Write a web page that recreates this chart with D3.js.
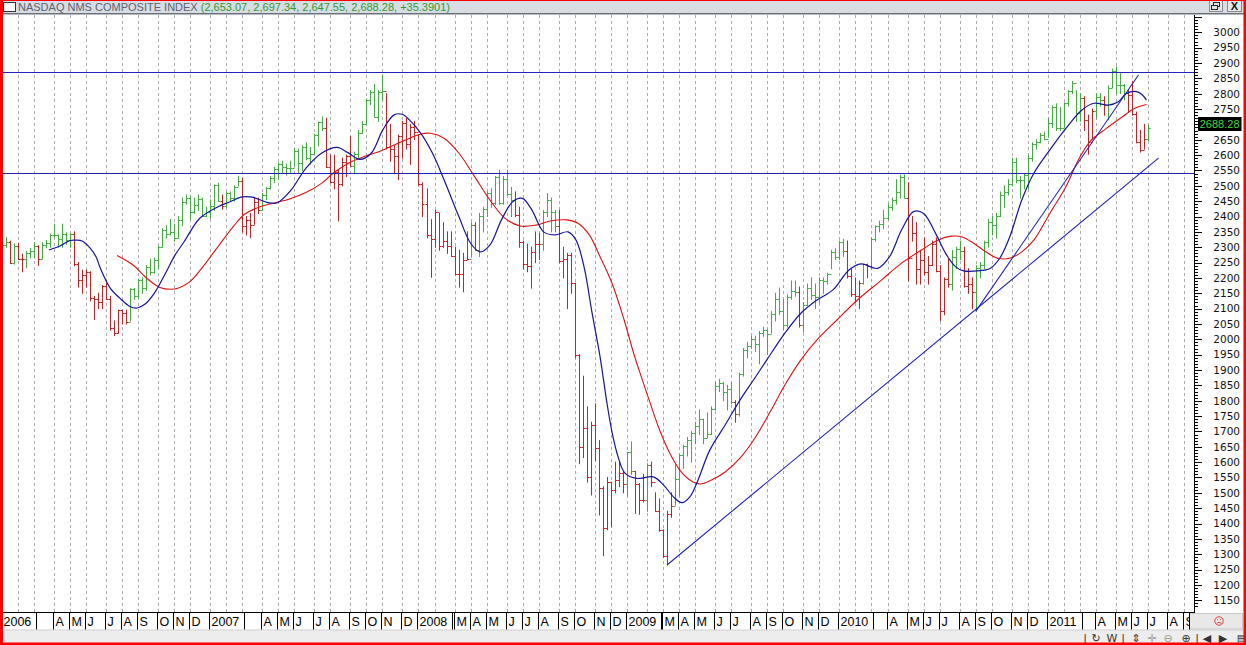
<!DOCTYPE html>
<html><head><meta charset="utf-8">
<script src="https://cdn.jsdelivr.net/npm/d3@7"></script>
<style>
html,body{margin:0;padding:0;background:#fff;overflow:hidden;}
svg{display:block;}
</style></head><body>
<svg id="c" width="1246" height="645"></svg>
<script>
// ---------------- DATA ----------------
const titleName = "NASDAQ NMS COMPOSITE INDEX";
const titleValues = "(2,653.07, 2,697.34, 2,647.55, 2,688.28, +35.3901)";
const lastValueLabel = "2688.28";
const firstWeekMonday = "2006-01-02";
const closeBeforeFirstWeek = 2205.3;
const holidayWeekEnds = ["2010-01-01"];

const weekHigh = [
2306,2332,2320,2311,2313,2277,2286,2296,2315,2305,2315,2322,2342,2375,2340,2375,2347,2345,2350,2250,2225,2225,2220,2140,2150,2175,2190,2140,2060,2095,2095,2095,2165,2165,2195,2200,2240,2260,2265,2302,2360,2370,2390,2375,2400,2460,2470,2465,2460,2470,2460,2430,
2454,2503,2508,2470,2480,2480,2500,2531,2525,2400,2410,2460,2460,2475,2495,2530,2560,2575,2580,2570,2580,2620,2620,2630,2640,2625,2668,2708,2724,2720,2600,2600,2550,2590,2600,2660,2610,2680,2710,2782,2810,2830,2810,2861,2800,2700,2630,2665,2710,2720,2700,2710,
2665,2510,2490,2390,2420,2410,2380,2350,2350,2300,2290,2280,2350,2380,2380,2410,2430,2480,2490,2530,2550,2530,2550,2495,2480,2430,2320,2310,2300,2350,2345,2420,2475,2460,2420,2420,2300,2280,2280,2183,1950,1880,1780,1730,1790,1670,1520,1550,1535,1600,1600,1570,
1632,1666,1570,1530,1560,1595,1600,1500,1480,1380,1440,1500,1590,1625,1655,1680,1700,1730,1770,1740,1760,1780,1860,1870,1860,1850,1860,1800,1890,1970,1990,2010,2010,2025,2040,2030,2090,2150,2167,2130,2145,2190,2190,2170,2120,2180,2200,2180,2200,2200,2215,2290,
2295,2320,2326,2320,2230,2200,2190,2245,2245,2330,2370,2385,2420,2440,2460,2520,2535,2535,2510,2400,2380,2290,2330,2270,2320,2330,2240,2200,2260,2290,2300,2320,2300,2230,2200,2240,2250,2320,2390,2400,2410,2480,2500,2520,2590,2590,2530,2540,2600,2640,2650,2670,
2675,2720,2760,2767,2755,2770,2810,2840,2810,2800,2790,2730,2750,2800,2800,2790,2825,2880,2887,2865,2830,2810,2840,2740,2680,2700,2697.3];

const weekLow = [
2189,2300,2247,2245,2260,2220,2233,2265,2265,2241,2262,2298,2300,2330,2300,2300,2310,2300,2240,2170,2150,2170,2125,2065,2100,2100,2130,2030,2012,2020,2050,2050,2060,2130,2135,2150,2160,2210,2215,2230,2300,2330,2340,2320,2330,2370,2440,2390,2410,2420,2400,2400,
2394,2420,2450,2424,2430,2450,2450,2500,2350,2340,2331,2375,2410,2420,2455,2490,2510,2520,2540,2535,2540,2565,2540,2550,2585,2570,2605,2630,2680,2560,2510,2490,2386,2500,2530,2565,2540,2590,2670,2700,2765,2725,2710,2780,2620,2580,2540,2520,2590,2620,2570,2650,
2500,2400,2330,2202,2300,2290,2300,2280,2270,2210,2170,2155,2260,2270,2290,2270,2350,2400,2430,2440,2440,2440,2470,2400,2400,2300,2230,2220,2167,2250,2260,2290,2400,2350,2350,2250,2200,2100,2150,1940,1595,1615,1535,1493,1605,1428,1295,1380,1390,1500,1520,1500,
1490,1560,1433,1430,1470,1440,1520,1440,1375,1290,1265,1420,1460,1490,1580,1620,1600,1660,1690,1660,1680,1690,1770,1830,1800,1770,1790,1730,1750,1880,1940,1970,1960,1920,2010,1950,2020,2060,2080,2030,2040,2130,2140,2040,2024,2110,2130,2100,2120,2150,2180,2230,
2260,2260,2270,2200,2140,2120,2100,2180,2200,2230,2320,2350,2360,2390,2420,2440,2460,2460,2190,2320,2180,2180,2210,2180,2240,2220,2061,2080,2170,2160,2230,2260,2170,2150,2100,2091,2200,2230,2300,2340,2330,2400,2430,2470,2500,2510,2460,2490,2490,2580,2620,2640,
2650,2660,2690,2680,2680,2690,2760,2800,2710,2710,2680,2603,2650,2720,2760,2730,2715,2820,2800,2800,2780,2740,2730,2640,2610,2620,2647.6];

const weekClose = [
2305.6,2316.7,2247.7,2304.2,2262.6,2261.9,2282.4,2287.0,2302.6,2262.0,2306.5,2312.8,2339.8,2339.0,2326.1,2342.9,2322.6,2342.6,2243.8,2193.9,2210.4,2219.9,2135.1,2130.0,2121.5,2172.1,2130.1,2037.4,2020.4,2094.1,2085.1,2057.7,2164.0,2140.3,2193.2,2165.8,2235.6,2218.9,2258.4,2300.0,2357.3,2342.3,2350.6,2330.8,2389.7,2445.9,2460.3,2413.2,2437.4,2457.2,2401.2,2415.3,
2434.3,2502.8,2451.3,2435.5,2475.9,2459.8,2496.3,2515.1,2368.0,2387.6,2372.7,2448.9,2421.6,2471.3,2491.9,2526.4,2554.5,2572.2,2562.2,2558.5,2557.2,2613.9,2573.5,2626.7,2589.0,2603.2,2666.5,2707.0,2687.6,2562.2,2511.3,2544.9,2505.0,2576.7,2596.4,2565.7,2602.2,2671.2,2701.5,2780.3,2805.7,2725.2,2804.2,2810.4,2627.9,2618.5,2596.6,2661.0,2706.2,2635.7,2692.0,2674.5,
2504.7,2439.9,2340.0,2326.2,2413.4,2304.9,2321.8,2303.4,2271.5,2212.5,2212.0,2258.1,2261.2,2371.0,2290.2,2403.0,2422.9,2476.7,2445.5,2528.9,2444.7,2522.7,2474.6,2454.5,2406.1,2315.6,2245.4,2239.1,2282.8,2310.5,2311.0,2414.1,2452.5,2414.7,2367.5,2255.9,2261.3,2273.9,2183.3,1947.4,1649.5,1711.3,1552.0,1721.0,1647.4,1516.9,1384.4,1535.6,1509.3,1540.7,1564.3,1530.2,
1632.2,1571.6,1529.3,1477.3,1476.4,1591.7,1534.4,1441.2,1377.8,1293.9,1431.5,1457.3,1545.2,1621.9,1652.5,1673.1,1694.3,1717.3,1739.0,1680.1,1692.0,1774.3,1849.4,1858.8,1827.5,1838.2,1796.5,1756.0,1886.6,1965.9,1979.0,2000.3,1985.5,2020.9,2028.8,2018.8,2080.9,2132.9,2090.9,2048.1,2139.3,2156.8,2154.5,2045.1,2112.4,2167.9,2146.0,2138.4,2194.4,2190.3,2211.7,2285.7,
2269.2,2317.2,2287.9,2205.3,2147.4,2141.1,2183.5,2243.9,2238.3,2326.4,2367.7,2374.4,2395.4,2429.5,2454.1,2481.3,2530.2,2461.2,2265.6,2346.9,2229.0,2257.0,2219.2,2243.6,2309.8,2223.5,2091.8,2196.5,2179.1,2269.5,2293.1,2288.5,2173.5,2179.8,2153.6,2233.8,2242.5,2315.6,2381.2,2370.8,2401.9,2468.8,2479.4,2507.4,2578.9,2518.2,2518.1,2534.6,2591.5,2637.5,2642.9,2665.6,
2652.9,2703.2,2755.3,2689.5,2686.9,2769.3,2809.4,2833.9,2737.9,2784.7,2715.6,2643.7,2743.1,2789.6,2780.4,2764.7,2820.2,2873.5,2827.6,2828.5,2803.3,2796.9,2732.8,2643.7,2616.5,2652.9,2688.3];

// moving averages: [week index, value]
const blueMA = [[11.8,2291],[14.6,2304],[17.1,2322],[18.6,2323],[20.1,2320],[22.1,2297],[23.6,2268],[24.6,2233],[27.1,2167],[29.5,2134],[32.0,2107],[33.8,2102],[35.8,2115],[38.3,2154],[40.8,2213],[43.3,2275],[45.5,2317],[49.5,2395],[54.0,2432],[57.0,2448],[59.7,2463],[62.6,2463],[66.5,2445],[68.8,2445],[72.2,2486],[75.9,2557],[79.8,2606],[83.7,2625],[86.4,2608],[89.4,2586],[92.2,2606],[95.1,2682],[97.9,2731],[99.9,2733],[101.8,2714],[104.6,2671],[107.5,2606],[110.4,2519],[114.1,2399],[117.0,2313],[119.4,2285],[121.8,2307],[124.7,2389],[127.5,2448],[129.9,2459],[132.3,2421],[135.2,2350],[138.1,2340],[141.3,2350],[143.3,2323],[145.3,2236],[147.3,2086],[149.3,1943],[150.9,1802],[152.2,1703],[153.8,1617],[155.5,1564],[158.4,1547],[162.6,1552],[165.1,1526],[167.6,1487],[169.7,1468],[171.7,1487],[173.4,1531],[176.7,1640],[180.5,1721],[184.2,1802],[187.9,1874],[190.9,1933],[195.4,2020],[199.4,2085],[203.4,2128],[207.4,2161],[211.4,2226],[214.4,2246],[218.5,2231],[221.5,2269],[224.5,2356],[227.5,2416],[230.0,2410],[233.0,2345],[235.5,2280],[238.0,2236],[240.0,2223],[243.5,2223],[246.6,2231],[249.0,2264],[251.5,2334],[254.5,2454],[257.5,2541],[261.5,2617],[265.5,2687],[269.5,2747],[272.5,2769],[276.1,2763],[278.6,2774],[280.6,2801],[283.1,2807],[284.6,2796],[285.6,2779]];

const redMA = [[28.8,2273],[32.8,2242],[36.2,2199],[39.5,2169],[42.5,2163],[44.5,2169],[47.0,2188],[50.2,2236],[54.0,2302],[57.8,2367],[60.7,2408],[64.5,2432],[68.3,2445],[72.2,2459],[75.9,2478],[79.8,2508],[82.7,2541],[86.4,2573],[90.3,2595],[94.1,2611],[97.9,2633],[101.8,2655],[104.6,2669],[107.0,2671],[110.4,2655],[114.1,2606],[118.0,2530],[121.8,2454],[125.6,2394],[129.4,2369],[133.3,2372],[137.1,2386],[141.0,2389],[143.8,2378],[146.6,2340],[149.3,2269],[152.3,2182],[155.3,2063],[157.8,1949],[159.3,1889],[161.8,1792],[164.2,1703],[166.7,1629],[169.2,1574],[171.7,1542],[174.2,1529],[176.7,1539],[180.5,1568],[184.2,1613],[187.9,1678],[191.7,1763],[195.4,1851],[199.4,1933],[203.4,1998],[208.4,2063],[213.5,2128],[219.5,2193],[224.5,2248],[229.5,2291],[233.5,2323],[237.0,2336],[239.5,2334],[242.5,2313],[245.5,2285],[248.5,2264],[251.5,2264],[254.5,2285],[257.5,2323],[261.5,2410],[265.5,2497],[268.6,2584],[271.5,2644],[275.6,2687],[279.6,2725],[282.6,2752],[285.6,2765]];

const levelLines = [2870, 2541];
const trendLines = [[[166, 1265], [288.6, 2590]], [[243, 2091], [283.6, 2861]]];
const priceTicks = d3.range(1150, 3001, 50);
const monthLetters = ["J","F","M","A","M","J","J","A","S","O","N","D"];

// ---------------- SCALES ----------------
const DAY = 864e5;
const t0 = new Date(firstWeekMonday + "T00:00:00Z").getTime();
const weekDate = w => new Date(t0 + w * 7 * DAY);
const x = d3.scaleUtc()
  .domain([new Date(Date.UTC(2006,0,1)), new Date(Date.UTC(2011,8,11))])
  .range([1, 1191.6]);
const y = d3.scaleLinear().domain([1150, 3000]).range([600.3, 32.3]);

const svg = d3.select("#c");
const GREEN = "#3fae3f", RED = "#cc1f1f", BLUE_MA = "#15159a", RED_MA = "#dd1111", LINE = "#2222b8";
const plot = {l: 2.5, r: 1192, t: 15, b: 612.5};

svg.append("rect").attr("width", 1246).attr("height", 645).attr("fill", "#fff");

svg.append("defs").append("clipPath").attr("id", "pc")
  .append("rect").attr("x", plot.l).attr("y", plot.t)
  .attr("width", plot.r - plot.l).attr("height", plot.b - plot.t);

// month boundaries (first weekly bar whose trading week ends in the month)
const holidaySet = new Set(holidayWeekEnds);
const boundaries = [];
let prevKey = null;
for (let i = 0; i < 300; i++) {
  let end = d3.utcDay.offset(weekDate(i), 4);
  if (holidaySet.has(d3.utcFormat("%Y-%m-%d")(end))) end = d3.utcDay.offset(end, -1);
  const key = end.getUTCFullYear() * 12 + end.getUTCMonth();
  if (key !== prevKey) {
    const px = x(weekDate(i));
    if (px < plot.r) boundaries.push({i, px, month: end.getUTCMonth(), year: end.getUTCFullYear()});
  }
  prevKey = key;
}

// dashed grid
const gPlot = svg.append("g").attr("clip-path", "url(#pc)");
gPlot.append("g").selectAll("line").data(boundaries).join("line")
  .attr("x1", d => Math.round(d.px) + 0.5).attr("x2", d => Math.round(d.px) + 0.5)
  .attr("y1", plot.t).attr("y2", plot.b)
  .attr("stroke", "#ababab").attr("stroke-width", 1).attr("stroke-dasharray", "3,3");

// bars
const bars = weekClose.map((c, i) => ({
  i, c, h: weekHigh[i], l: weekLow[i], o: i ? weekClose[i - 1] : closeBeforeFirstWeek
}));
function maAt(ma, w) {
  if (w < ma[0][0] || w > ma[ma.length - 1][0]) return null;
  for (let k = 1; k < ma.length; k++) {
    if (w <= ma[k][0]) {
      const a = ma[k - 1], b = ma[k], f = (w - a[0]) / (b[0] - a[0]);
      return a[1] + f * (b[1] - a[1]);
    }
  }
  return null;
}
bars.forEach(b => {
  const m = maAt(blueMA, b.i);
  b.up = m == null ? b.c >= b.o : b.c > m;
});
const gBars = gPlot.append("g");
bars.forEach(b => {
  const bx = Math.round(x(weekDate(b.i))) + 0.5;
  const col = b.up ? GREEN : RED;
  const g = gBars.append("g").attr("stroke", col).attr("stroke-width", 1);
  g.append("line").attr("x1", bx).attr("x2", bx).attr("y1", y(b.h) - 0.5).attr("y2", y(b.l) + 0.5);
  const yo = Math.round(y(b.o)) + 0.5, yc = Math.round(y(b.c)) + 0.5;
  g.append("line").attr("x1", bx - 2).attr("x2", bx).attr("y1", yo).attr("y2", yo);
  g.append("line").attr("x1", bx).attr("x2", bx + 2).attr("y1", yc).attr("y2", yc);
});

// moving averages
const maLine = d3.line().x(d => x(weekDate(d[0]))).y(d => y(d[1])).curve(d3.curveCatmullRom.alpha(0.5));
gPlot.append("path").attr("d", maLine(redMA)).attr("fill", "none").attr("stroke", RED_MA).attr("stroke-width", 1.1);
gPlot.append("path").attr("d", maLine(blueMA)).attr("fill", "none").attr("stroke", BLUE_MA).attr("stroke-width", 1.2);

// level lines and trend lines
svg.append("g").selectAll("line").data(levelLines).join("line")
  .attr("x1", plot.l).attr("x2", 1195)
  .attr("y1", d => Math.round(y(d)) + 0.5).attr("y2", d => Math.round(y(d)) + 0.5)
  .attr("stroke", LINE).attr("stroke-width", 1.2);
gPlot.append("g").selectAll("line").data(trendLines).join("line")
  .attr("x1", d => x(weekDate(d[0][0]))).attr("y1", d => y(d[0][1]))
  .attr("x2", d => x(weekDate(d[1][0]))).attr("y2", d => y(d[1][1]))
  .attr("stroke", LINE).attr("stroke-width", 1.1);

// ---------------- RIGHT AXIS ----------------
svg.append("line").attr("x1", 1194.5).attr("x2", 1194.5).attr("y1", plot.t).attr("y2", plot.b).attr("stroke", "#000");
const minor = d3.range(1130, 3061, 10);
svg.append("g").selectAll("line").data(minor).join("line")
  .attr("x1", 1194.5).attr("x2", d => d % 50 === 0 ? 1202 : 1198)
  .attr("y1", d => Math.round(y(d)) + 0.5).attr("y2", d => Math.round(y(d)) + 0.5)
  .attr("stroke", "#000").attr("stroke-width", 1);

const lastY = y(weekClose[weekClose.length - 1]) - 4;
// tick labels (the one hidden behind the last-value box is not drawn, as in the original)
svg.append("g").selectAll("text").data(priceTicks.filter(v => Math.abs(y(v) - lastY) > 9)).join("text")
  .attr("x", 1240).attr("y", d => y(d) + 3.8)
  .attr("text-anchor", "end").attr("font-family", "DejaVu Sans, sans-serif").attr("font-size", 10.5)
  .attr("fill", "#111").text(d => d);

// last value box
svg.append("rect").attr("x", 1198).attr("y", lastY - 7).attr("width", 43.5).attr("height", 14).attr("fill", "#000");
svg.append("text").attr("x", 1239.5).attr("y", lastY + 4).attr("text-anchor", "end")
  .attr("font-family", "Liberation Sans, Arial, sans-serif").attr("font-size", 11)
  .attr("fill", "#3cdc3c").text(lastValueLabel);

// ---------------- BOTTOM AXIS BAND ----------------
const bandTop = 612.5, bandBot = 629.5;
svg.append("rect").attr("x", 0).attr("y", 630).attr("width", 1246).attr("height", 15).attr("fill", "#ededed");
svg.append("line").attr("x1", plot.l).attr("x2", 1195).attr("y1", bandTop).attr("y2", bandTop).attr("stroke", "#000");
svg.append("line").attr("x1", plot.l).attr("x2", 1246).attr("y1", bandBot + 0.5).attr("y2", bandBot + 0.5).attr("stroke", "#d0d0d0");
const gAx = svg.append("g").attr("font-family", "Liberation Sans, Arial, sans-serif").attr("font-size", 12.5).attr("fill", "#000");
let boxEnd = -Infinity;
boundaries.forEach(b => {
  const sx = Math.round(b.px) - 0.5;
  if (sx < boxEnd - 1) return;
  gAx.append("line").attr("x1", sx).attr("x2", sx).attr("y1", bandTop).attr("y2", bandBot).attr("stroke", "#000");
  if (b.month === 0) {
    gAx.append("text").attr("x", sx + 2).attr("y", 626).text(b.year);
    boxEnd = sx + 35;
    gAx.append("line").attr("x1", boxEnd).attr("x2", boxEnd).attr("y1", bandTop).attr("y2", bandBot).attr("stroke", "#000");
  } else {
    gAx.append("text").attr("x", sx + 2).attr("y", 626).text(monthLetters[b.month]);
    boxEnd = sx + 2;
  }
});
// grey corner box
svg.append("rect").attr("x", 1189.5).attr("y", 613.5).attr("width", 53).attr("height", 15.5).attr("fill", "#e8e8e8").attr("stroke", "#c8c8c8");
svg.append("line").attr("x1", 1189.5).attr("x2", 1189.5).attr("y1", bandTop).attr("y2", bandBot).attr("stroke", "#000");
svg.append("circle").attr("cx", 1219).attr("cy", 621).attr("r", 4.2).attr("fill", "none").attr("stroke", "#e04040").attr("stroke-width", 1);
svg.append("path").attr("d", "M1216.8,623.2 Q1219,621.5 1221.2,623.2 M1217.3,619.5 h0.8 M1220,619.5 h0.8").attr("fill", "none").attr("stroke", "#e04040").attr("stroke-width", 1);

// toolbar
const tb = svg.append("g").attr("font-family", "DejaVu Sans, sans-serif").attr("font-size", 11).attr("text-anchor", "middle");
[["|",1085],["\u21BB",1096],["W",1112],["|",1123],["\u21D5",1136],["\u271B",1152],["\u2296",1168],["\u2295",1186],["|",1197],["\u25C0",1207],["\u25B6",1223],["\u25A4",1242]]
  .forEach(([t, px]) => tb.append("text").attr("x", px).attr("y", 641.5).text(t)
    .attr("fill", (t === "\u271B" || t === "\u2296") ? "#999" : "#333"));

// ---------------- TITLE BAR ----------------
svg.append("rect").attr("x", 0).attr("y", 0).attr("width", 1246).attr("height", 13.5).attr("fill", "#d8dce3");
svg.append("line").attr("x1", 0).attr("x2", 1246).attr("y1", 13.5).attr("y2", 13.5).attr("stroke", "#6a6e76");
svg.append("line").attr("x1", 0).attr("x2", 1246).attr("y1", 14.5).attr("y2", 14.5).attr("stroke", "#b8bcc4");
svg.append("rect").attr("x", 3.5).attr("y", 2.5).attr("width", 12).attr("height", 9).attr("fill", "#fff").attr("stroke", "#333");
const tt = svg.append("text").attr("x", 18).attr("y", 11)
  .attr("font-family", "Liberation Sans, Arial, sans-serif").attr("font-size", 11);
tt.append("tspan").attr("fill", "#5b6170").text(titleName);
tt.append("tspan").attr("fill", "#2f9a2f").text(" " + titleValues);
// window buttons
svg.append("rect").attr("x", 1209.5).attr("y", 0.5).attr("width", 13).attr("height", 11).attr("fill", "#e6e6e6").attr("stroke", "#8a8a8a");
svg.append("rect").attr("x", 1213.5).attr("y", 2.5).attr("width", 6).attr("height", 4).attr("fill", "none").attr("stroke", "#222");
svg.append("rect").attr("x", 1211.5).attr("y", 5.5).attr("width", 6).attr("height", 4).attr("fill", "#e6e6e6").attr("stroke", "#222");
svg.append("rect").attr("x", 1227.5).attr("y", 0.5).attr("width", 14).attr("height", 11).attr("fill", "#e6e6e6").attr("stroke", "#8a8a8a");
svg.append("text").attr("x", 1234.5).attr("y", 10).attr("text-anchor", "middle")
  .attr("font-family", "Liberation Sans, Arial, sans-serif").attr("font-size", 11).attr("font-weight", "bold").attr("fill", "#111").text("X");

// ---------------- RED FRAME ----------------
svg.append("rect").attr("x", 0).attr("y", 0).attr("width", 3).attr("height", 645).attr("fill", "#f00");
svg.append("rect").attr("x", 1243.5).attr("y", 0).attr("width", 2.5).attr("height", 645).attr("fill", "#f00");
svg.append("rect").attr("x", 0).attr("y", 642.5).attr("width", 1246).attr("height", 2.5).attr("fill", "#f00");
svg.append("rect").attr("x", 0).attr("y", 0).attr("width", 1246).attr("height", 1).attr("fill", "#f00");
</script>
</body></html>
